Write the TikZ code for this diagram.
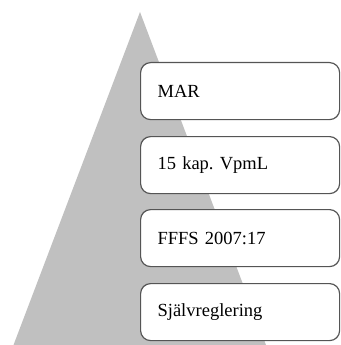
\documentclass[tikz,border=0pt]{standalone}
\usepackage{fontspec}
\setmainfont{Liberation Serif}
\frenchspacing
\definecolor{pyr}{RGB}{192,192,192}
\definecolor{edge}{RGB}{85,85,85}
\tikzset{
  lvlbox/.style={draw=edge, line width=1.2pt, fill=white, rounded corners=10pt,
    minimum width=199pt, minimum height=57pt, anchor=north west,
    text width=165pt, align=left, inner xsep=0pt, font=\fontsize{18.5pt}{20pt}\selectfont},
}
\begin{document}
\begin{tikzpicture}[x=1pt,y=-1pt]
\useasboundingbox (0,0) rectangle (340,345);
\fill[pyr] (140,12) -- (266,345) -- (13.5,345) -- cycle;
\node[lvlbox] (mar) at (140,62) {MAR};
\node[lvlbox] (vpml) at (140,136) {15 kap. VpmL};
\node[lvlbox] (fffs) at (140,209) {FFFS 2007:17};
\node[lvlbox] (sjalv) at (140,283) {Självreglering};
\end{tikzpicture}
\end{document}
